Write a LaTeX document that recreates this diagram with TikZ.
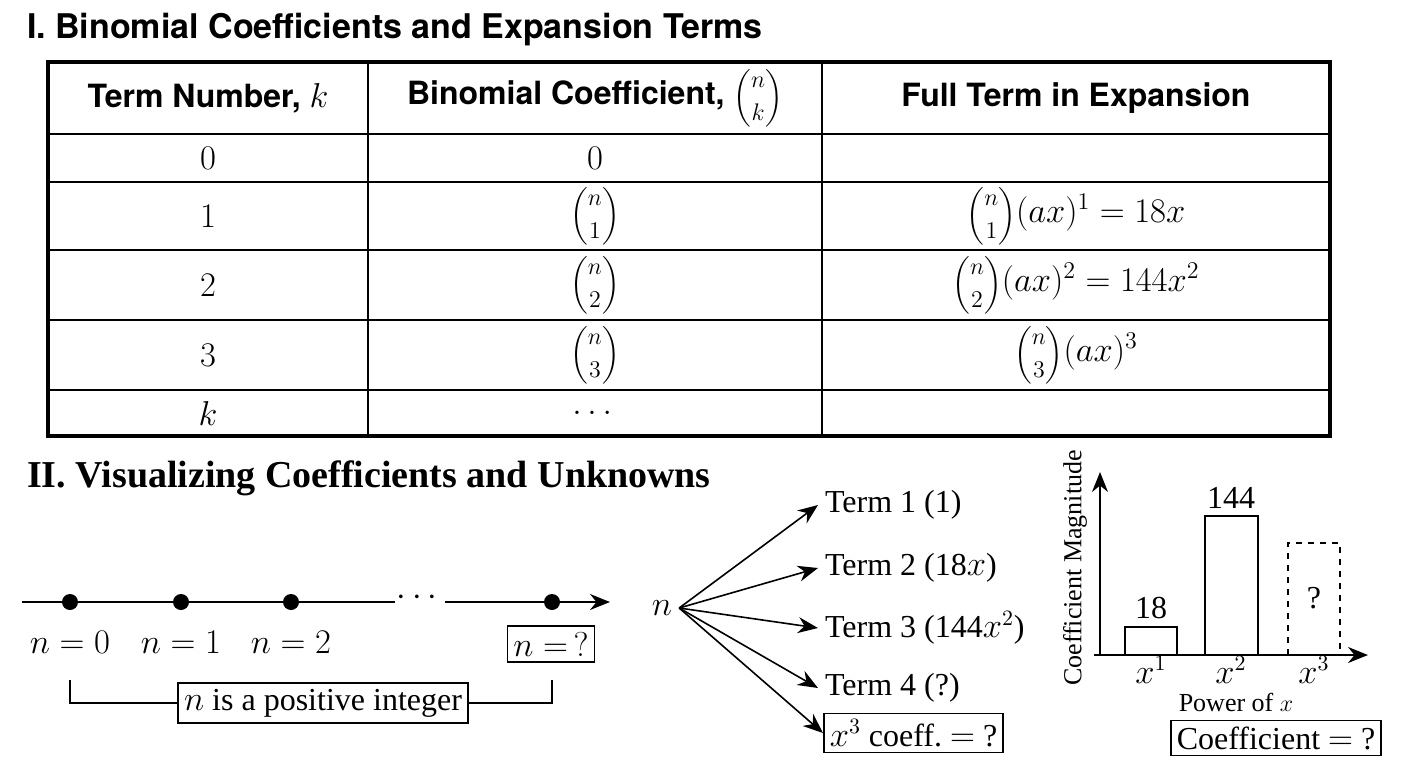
\documentclass[tikz,border=0pt]{standalone}
\usepackage{amsmath}
\usepackage{fontspec}
\setmainfont{Liberation Serif}
\newfontfamily\headfont{TeX Gyre Heros}
\usetikzlibrary{positioning,arrows.meta}
\newcommand{\bc}[1]{{\fontsize{12.5}{14}\selectfont$\dbinom{n}{#1}$}}
\tikzset{
  head/.style={font=\headfont\bfseries\fontsize{16}{19}\selectfont},
  cell/.style={font=\fontsize{17}{20}\selectfont},
  lbl/.style={font=\fontsize{16}{19}\selectfont},
  boxed/.style={draw,thick,inner sep=3pt,font=\fontsize{16}{19}\selectfont},
  arr/.style={-{Stealth[length=10pt,width=8pt]},thick},
  dot/.style={circle,fill,inner sep=0pt,minimum size=8pt}
}
\begin{document}
\begin{tikzpicture}[x=0.5pt,y=-0.5pt]
\useasboundingbox (0,0) rectangle (1408,768);
% part one
\node[anchor=west,font=\headfont\bfseries\fontsize{17}{20}\selectfont] (t1) at (20,30) {I. Binomial Coefficients and Expansion Terms};
\draw[line width=2pt] (48,62) rectangle (1330,436);
\draw[thick] (368,62) -- (368,436) (822,62) -- (822,436);
\foreach \y in {134,182,250,320,390} \draw[thick] (48,\y) -- (1330,\y);
\node[head] (h1) at (208,98) {Term Number, $k$};
\node[head] (h2) at (595,98) {Binomial Coefficient, \bc{k}};
\node[head] (h3) at (1076,98) {Full Term in Expansion};
\node[cell] (a0) at (208,158) {$0$};
\node[cell] (b0) at (595,158) {$0$};
\node[cell] (a1) at (208,216) {$1$};
\node[cell] (b1) at (595,216) {\bc{1}};
\node[cell] (c1) at (1076,216) {\bc{1}$(ax)^1=18x$};
\node[cell] (a2) at (208,285) {$2$};
\node[cell] (b2) at (595,285) {\bc{2}};
\node[cell] (c2) at (1076,285) {\bc{2}$(ax)^2=144x^2$};
\node[cell] (a3) at (208,355) {$3$};
\node[cell] (b3) at (595,355) {\bc{3}};
\node[cell] (c3) at (1076,355) {\bc{3}$(ax)^3$};
\node[cell] (ak) at (208,413) {$k$};
\node[cell] (bk) at (595,413) {$\dots$};
% part two
\node[anchor=west,font=\bfseries\fontsize{19}{22}\selectfont] (t2) at (20,478) {II. Visualizing Coefficients and Unknowns};
% number line
\coordinate (l0) at (22,602);
\coordinate (l1) at (395,602);
\coordinate (l2) at (445,602);
\coordinate (l3) at (610,602);
\draw[thick] (l0) -- (l1);
\node[lbl] (gap) at (420,598) {$\cdots$};
\draw[arr] (l2) -- (l3);
\node[dot] (d0) at (70,602) {};
\node[dot] (d1) at (181,602) {};
\node[dot] (d2) at (291,602) {};
\node[dot] (d3) at (552,602) {};
\node[lbl] (n0) at (70,642) {$n=0$};
\node[lbl] (n1) at (181,642) {$n=1$};
\node[lbl] (n2) at (291,642) {$n=2$};
\node[boxed] (nq) at (551,644) {$n=\,?$};
\node[boxed] (pos) at (323,703) {$n$ is a positive integer};
\draw[thick] (pos.west) -| (70,680);
\draw[thick] (pos.east) -| (552,680);
% tree
\node[lbl] (n) at (662,608) {$n$};
\node[lbl,anchor=west] (r1) at (818,505) {Term 1 (1)};
\node[lbl,anchor=west] (r2) at (818,568) {Term 2 (18$x$)};
\node[lbl,anchor=west] (r3) at (818,628) {Term 3 (144$x^2$)};
\node[lbl,anchor=west] (r4) at (818,688) {Term 4 (?)};
\node[boxed,anchor=west] (r5) at (823,733) {$x^3$ coeff.\ $=$ ?};
\foreach \r in {r1,r2,r3,r4} \draw[arr] (n.east) -- (\r.west);
\draw[arr] (n.east) -- (r5.west);
% bar chart
\coordinate (o) at (1100,655);
\coordinate (ytop) at (1100,472);
\coordinate (xend) at (1368,655);
\draw[arr] (o) -- (ytop);
\draw[arr] (1094,655) -- (xend);
\draw[thick] (1125,655) rectangle (1177,627);
\draw[thick] (1205,655) rectangle (1258,516);
\draw[thick,dashed] (1288,655) rectangle (1340,543);
\node[lbl] (v1) at (1151,608) {18};
\node[lbl] (v2) at (1231,498) {144};
\node[lbl] (v3) at (1314,598) {?};
\node[lbl] (x1) at (1151,670) {$x^1$};
\node[lbl] (x2) at (1231,670) {$x^2$};
\node[lbl] (x3) at (1314,670) {$x^3$};
\node[font=\fontsize{13}{15}\selectfont] (xl) at (1236,702) {Power of $x$};
\node[font=\fontsize{13}{15}\selectfont,rotate=90] (yl) at (1075,568) {Coefficient Magnitude};
\node[boxed] (cq) at (1276,738) {Coefficient $=$ ?};
\end{tikzpicture}
\end{document}
